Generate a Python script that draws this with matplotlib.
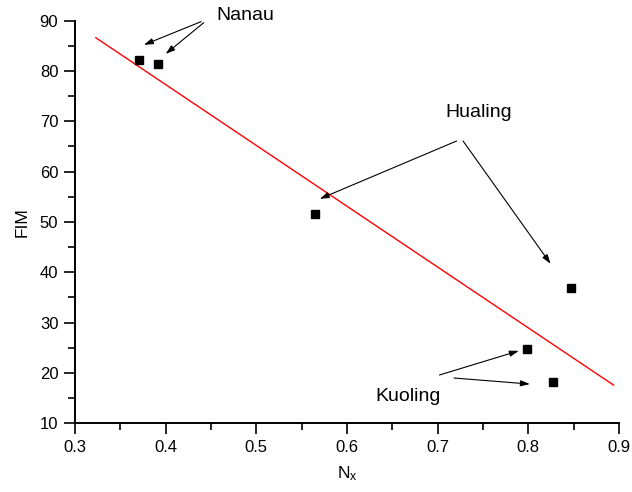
import numpy as np
import matplotlib
matplotlib.use("Agg")
import matplotlib.pyplot as plt
from matplotlib.ticker import MultipleLocator

plt.rcParams["font.family"] = ["Liberation Sans", "DejaVu Sans"]
plt.rcParams["mathtext.default"] = "regular"

# ============================================================
# DATA
# ============================================================

nx = [0.371, 0.392, 0.565, 0.847, 0.798, 0.827]
fim = [82.2, 81.4, 51.6, 36.9, 24.8, 18.3]

# fitted line end points
fit_x = [0.323, 0.894]
fit_y = [86.6, 17.6]

# label text, text position, arrows (start, end)
labels = ["Nanau", "Hualing", "Kuoling"]
label_pos = [(0.4555, 90.1), (0.708, 70.9), (0.631, 14.5)]
arrows = [
    [((0.439, 89.8), (0.376, 85.2)), ((0.442, 89.6), (0.400, 83.4))],
    [((0.721, 66.1), (0.570, 54.6)), ((0.728, 66.1), (0.8245, 41.7))],
    [((0.702, 19.6), (0.7895, 24.4)), ((0.718, 19.0), (0.8017, 17.8))],
]

# ============================================================
# PLOT
# ============================================================

fig = plt.figure(figsize=(6.32, 4.92), dpi=100)
ax = fig.add_axes([0.1187, 0.1396, 0.8607, 0.8184])

ax.plot(fit_x, fit_y, color="red", linewidth=1.0)

ax.plot(
    nx,
    fim,
    linestyle="none",
    marker="s",
    markersize=6.3,
    color="black"
)

for text, pos, arr in zip(labels, label_pos, arrows):

    ax.text(
        pos[0],
        pos[1],
        text,
        fontsize=14,
        ha="left",
        va="baseline",
        clip_on=False
    )

    for start, end in arr:
        ax.annotate(
            "",
            xy=end,
            xytext=start,
            annotation_clip=False,
            arrowprops=dict(
                arrowstyle="-|>,head_length=0.55,head_width=0.18",
                color="black",
                lw=0.8,
                shrinkA=0,
                shrinkB=0
            )
        )

ax.set_xlim(0.3, 0.9)
ax.set_ylim(10, 90)

ax.xaxis.set_major_locator(MultipleLocator(0.1))
ax.xaxis.set_minor_locator(MultipleLocator(0.05))
ax.yaxis.set_major_locator(MultipleLocator(10))
ax.yaxis.set_minor_locator(MultipleLocator(5))

ax.spines["top"].set_visible(False)
ax.spines["right"].set_visible(False)
ax.spines["left"].set_linewidth(1.4)
ax.spines["bottom"].set_linewidth(1.4)

ax.tick_params(which="major", direction="out", length=8, width=1.2,
               labelsize=12, pad=4)
ax.tick_params(which="minor", direction="out", length=5, width=1.2)

ax.set_xticklabels([f"{v:.1f}" for v in ax.get_xticks()])

ax.set_xlabel("N$_x$", fontsize=12.5, labelpad=7)
ax.set_ylabel("FIM", fontsize=12.5, labelpad=7)

fig.savefig("out.png", dpi=100)
